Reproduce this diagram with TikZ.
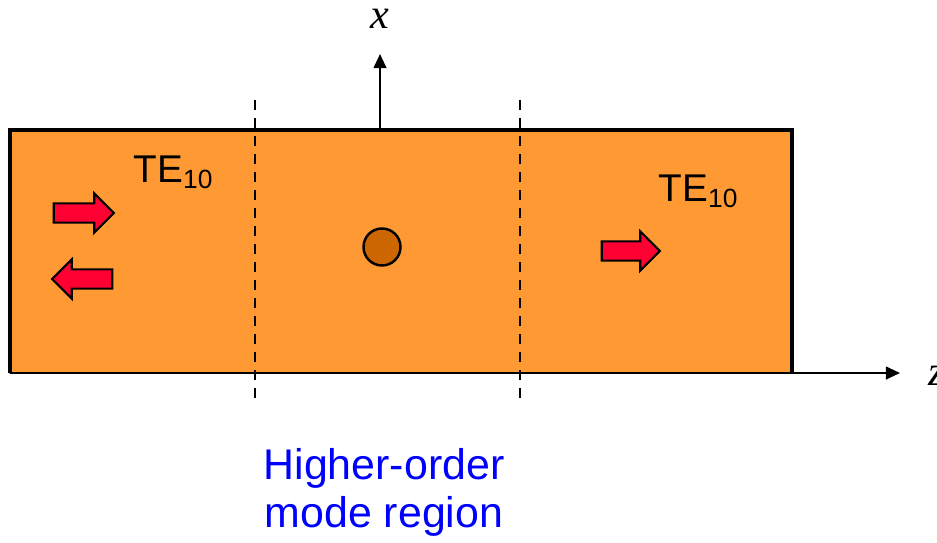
\documentclass[tikz,border=0pt]{standalone}
\usepackage{fontspec}
\setmainfont{Liberation Sans}
\newfontfamily\axisfont{Liberation Serif}
\usetikzlibrary{positioning, arrows.meta, shapes.arrows}
\definecolor{guide}{RGB}{255, 153, 51}
\definecolor{post}{RGB}{204, 102, 0}
\definecolor{wave}{RGB}{255, 0, 51}
\definecolor{note}{RGB}{0, 0, 255}

\tikzset{
  wavearrow/.style={single arrow, draw=black, fill=wave, line width=0.6pt,
    minimum height=0.6cm, minimum width=0.37cm, single arrow head extend=0.1cm,
    inner xsep=0pt, inner ysep=0.085cm},
  modelabel/.style={anchor=base west, inner sep=0pt, font=\fontsize{11}{13}\selectfont},
  axislabel/.style={font=\fontsize{12}{14}\selectfont\axisfont\itshape, inner sep=0pt},
}

\begin{document}
\begin{tikzpicture}[x=0.01cm, y=-0.01cm, >={Triangle[length=4pt, width=3.6pt]}]
  \useasboundingbox (0,0) rectangle (937,543);

  % waveguide
  \draw[guide, fill=guide] (10,130) rectangle (792,373);
  \draw[line width=0.9pt] (792,373) -- (792,130) -- (10,130) -- (10,373);

  % axes
  \coordinate (zstart) at (10,373);
  \coordinate (zend) at (900,373);
  \coordinate (xstart) at (380,130);
  \coordinate (xend) at (380,54);
  \draw[line width=0.6pt, ->] (zstart) -- (zend);
  \draw[line width=0.6pt, ->] (xstart) -- (xend);
  \node[axislabel, anchor=base west] (zlabel) at (928,385) {z};
  \node[axislabel, anchor=base] (xlabel) at (380,29) {x};

  % region boundaries
  \foreach \x/\name in {255/left, 520/right} {
    \coordinate (\name top) at (\x,100);
    \coordinate (\name bot) at (\x,405);
    \draw[line width=0.6pt, dash pattern=on 0.1cm off 0.08cm] (\name top) -- (\name bot);
  }

  % post
  \node[circle, draw=black, fill=post, line width=0.7pt, minimum size=0.37cm, inner sep=0pt] (post) at (382,247) {};

  % TE10 waves
  \node[wavearrow] (incident) at (79,213) {};
  \node[wavearrow, shape border rotate=180] (reflected) at (87,279) {};
  \node[wavearrow, minimum height=0.58cm] (transmitted) at (626,251) {};
  \node[modelabel] (teleft) at (133,183) {TE\textsubscript{\fontsize{7.5}{9}\selectfont 10}};
  \node[modelabel] (teright) at (658,202) {TE\textsubscript{\fontsize{7.5}{9}\selectfont 10}};

  % region label
  \node[note, align=center, font=\fontsize{12.2}{13.4}\selectfont, anchor=base] (region) at (384,527)
    {Higher-order\\mode region};
\end{tikzpicture}
\end{document}
